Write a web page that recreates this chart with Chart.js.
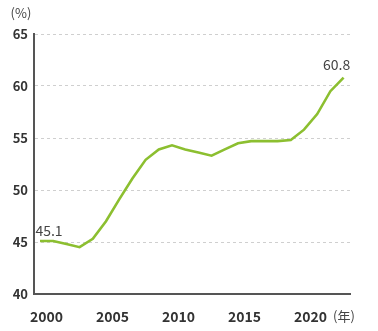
<!DOCTYPE html>
<html>
<head>
<meta charset="utf-8">
<script src="https://cdn.jsdelivr.net/npm/chart.js@4"></script>
<style>
  body { margin: 0; background: #fff; }
  #wrap { width: 378px; height: 331px; }
</style>
</head>
<body>
<div id="wrap"><canvas id="rateChart" width="378" height="331"></canvas></div>
<script>
const years = [2000, 2001, 2002, 2003, 2004, 2005, 2006, 2007, 2008, 2009, 2010, 2011,
  2012, 2013, 2014, 2015, 2016, 2017, 2018, 2019, 2020, 2021, 2022, 2023];
const rates = [45.1, 45.1, 44.8, 44.5, 45.3, 47.0, 49.1, 51.1, 52.9, 53.9, 54.3, 53.9,
  53.6, 53.3, 53.9, 54.5, 54.7, 54.7, 54.7, 54.8, 55.8, 57.3, 59.5, 60.8];
const xTicks = [2000, 2005, 2010, 2015, 2020];
const yTicks = [40, 45, 50, 55, 60, 65];

const FONT = '"Noto Sans CJK JP", "Noto Sans", sans-serif';

// end labels + unit captions
const captions = {
  id: 'captions',
  afterDraw(chart) {
    const ctx = chart.ctx;
    const pts = chart.getDatasetMeta(0).data;
    ctx.save();
    ctx.fillStyle = '#444';
    ctx.textAlign = 'center';
    ctx.textBaseline = 'middle';
    ctx.font = '14px ' + FONT;
    const first = pts[0], last = pts[pts.length - 1];
    ctx.fillText(rates[0].toFixed(1), first.x + 9, first.y - 10);
    ctx.fillText(rates[rates.length - 1].toFixed(1), last.x - 7, last.y - 13);
    ctx.font = '13px ' + FONT;
    ctx.fillText('(%)', 21, 13);
    ctx.fillText('(年)', 344, 316);
    ctx.restore();
  }
};

new Chart(document.getElementById('rateChart'), {
  type: 'line',
  data: {
    datasets: [{
      data: years.map((y, i) => ({ x: y, y: rates[i] })),
      borderColor: '#8cbf30',
      borderWidth: 2.6,
      pointRadius: 0,
      tension: 0,
      fill: false
    }]
  },
  options: {
    responsive: false,
    devicePixelRatio: 1,
    animation: false,
    layout: { padding: { top: 34, right: 28, left: 0, bottom: 0 } },
    plugins: { legend: { display: false }, tooltip: { enabled: false } },
    scales: {
      x: {
        type: 'linear',
        min: 1999.545,
        max: 2023.485,
        afterFit: s => { s.height = 37; },
        afterBuildTicks: s => { s.ticks = xTicks.map(v => ({ value: v })); },
        grid: { display: false, drawTicks: false },
        border: { display: true, color: '#555', width: 2 },
        ticks: {
          autoSkip: false,
          maxRotation: 0,
          padding: 14,
          labelOffset: 6.6,
          color: '#333',
          font: { family: FONT, size: 14, weight: 'bold' },
          callback: v => String(v)
        }
      },
      y: {
        min: 40,
        max: 65,
        afterFit: s => { s.width = 34; },
        afterBuildTicks: s => { s.ticks = yTicks.map(v => ({ value: v })); },
        grid: { color: '#cfcfcf', lineWidth: 1, drawTicks: false },
        border: { display: true, color: '#555', width: 2, dash: [3, 3] },
        ticks: {
          padding: 6,
          color: '#333',
          font: { family: FONT, size: 13, weight: 'bold' }
        }
      }
    }
  },
  plugins: [captions]
});
</script>
</body>
</html>
